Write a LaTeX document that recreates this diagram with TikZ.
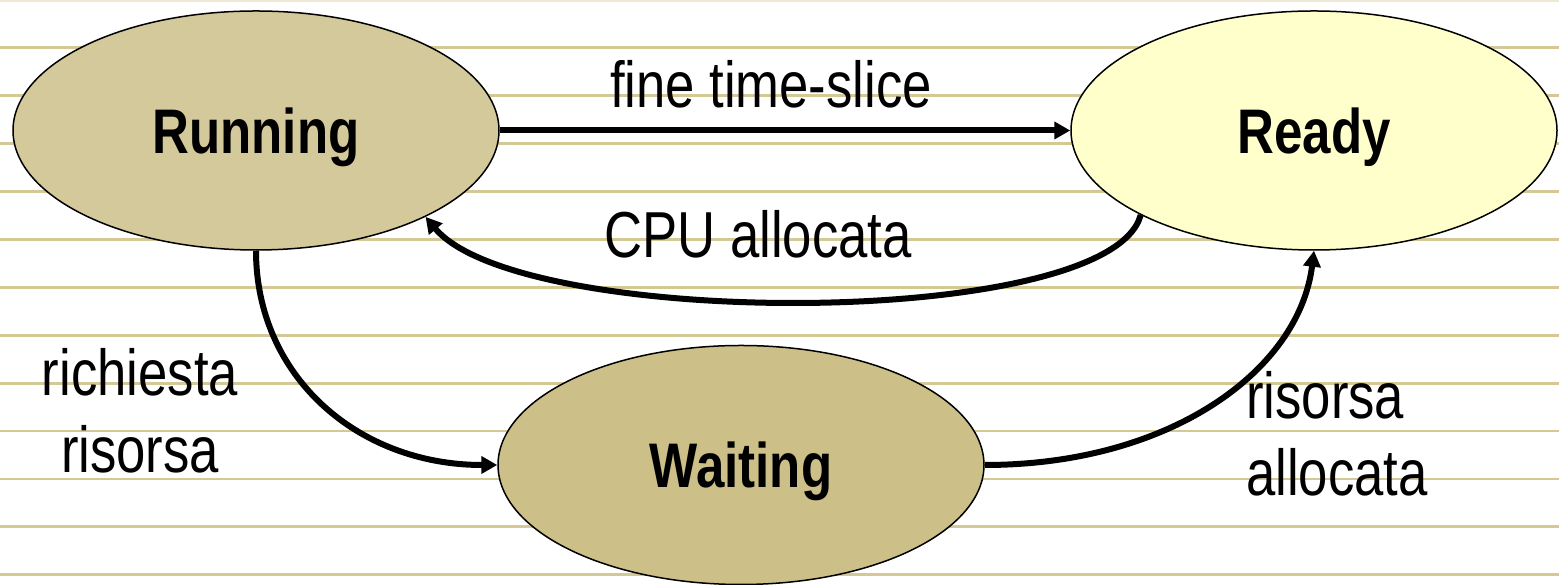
\documentclass[tikz,border=0pt]{standalone}
\usepackage{fontspec}
\setmainfont{Liberation Sans}[FakeStretch=0.81]
\usetikzlibrary{shapes,arrows.meta,positioning}

\definecolor{runfill}{HTML}{D4C99B}
\definecolor{waitfill}{HTML}{CCBF88}
\definecolor{readyfill}{HTML}{FFFFCC}
\definecolor{rulecol}{HTML}{D4C896}

\begin{document}
\begin{tikzpicture}[x=1pt,y=1pt,
  proc/.style={ellipse,draw,line width=1.5pt,minimum width=486pt,minimum height=239pt,
    inner sep=0pt,text depth=0pt,font=\fontsize{63}{76}\selectfont\bfseries},
  lbl/.style={inner sep=0pt,font=\fontsize{65}{77}\selectfont},
  trans/.style={line width=6pt,-{Triangle[length=16pt,width=17pt]}},
  rule/.style={rulecol,line width=2.8pt}]

  \fill[white] (0,0) rectangle (1559,585);
  \useasboundingbox (0,0) rectangle (1559,585);

  % ruled paper
  \draw[rule,opacity=.4] (0,584) -- (1559,584);
  \foreach \k in {1,...,12}
    \draw[rule] (0,585-47.9*\k) -- (1559,585-47.9*\k);

  \node[proc,fill=runfill] (running) at (256,454.5) {Running};
  \node[proc,fill=readyfill] (ready) at (1314,454.5) {Ready};
  \node[proc,fill=waitfill] (waiting) at (741,120) {Waiting};

  \node[lbl,anchor=base] (slice) at (771,477) {fine time-slice};
  \node[lbl,anchor=base] (cpu) at (758,327) {CPU allocata};
  \node[lbl,align=center] (req) at (140,174) {richiesta\\risorsa};
  \node[lbl,align=left,anchor=west] (alloc) at (1246,151) {risorsa\\allocata};

  \draw[trans] (running.east) -- (ready.west);
  \draw[trans] (ready.206) .. controls (1110,255) and (520,255) .. (running.-27);
  \draw[trans] (running.south) .. controls +(0,-125) and +(-140,0) .. (waiting.west);
  \draw[trans] (waiting.east) .. controls +(185,0) and +(-15,-120) .. (ready.south);
\end{tikzpicture}
\end{document}
